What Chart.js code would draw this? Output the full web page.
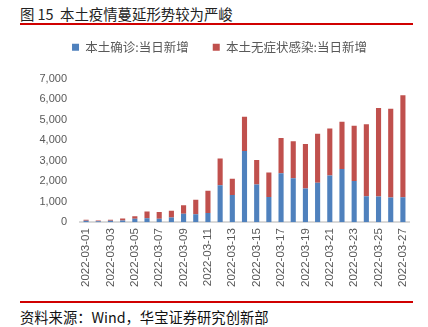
<!DOCTYPE html>
<html>
<head>
<meta charset="utf-8">
<script src="https://cdn.jsdelivr.net/npm/chart.js@4"></script>
<style>
  body { margin:0; width:428px; height:327px; background:#fff; position:relative; overflow:hidden; font-family:"Noto Sans CJK SC","Liberation Sans",sans-serif; }
  #title { position:absolute; left:20px; top:3px; font-size:14.4px; color:#222; white-space:nowrap; }
  .rule { position:absolute; left:20px; width:393px; height:2px; background:#d00000; }
  #wrap { position:absolute; left:30px; top:13px; width:398px; height:280px; }
  #source { position:absolute; left:20px; top:306px; font-size:14.3px; color:#111; white-space:nowrap; }
</style>
</head>
<body>
<div id="title">图 15&nbsp; 本土疫情蔓延形势较为严峻</div>
<div class="rule" style="top:23px"></div>
<div id="wrap"><canvas id="myChart"></canvas></div>
<div class="rule" style="top:301px"></div>
<div id="source">资料来源：Wind，华宝证券研究创新部</div>
<script>
'use strict';

var days = ['2022-03-01','2022-03-02','2022-03-03','2022-03-04','2022-03-05','2022-03-06','2022-03-07',
  '2022-03-08','2022-03-09','2022-03-10','2022-03-11','2022-03-12','2022-03-13','2022-03-14',
  '2022-03-15','2022-03-16','2022-03-17','2022-03-18','2022-03-19','2022-03-20','2022-03-21',
  '2022-03-22','2022-03-23','2022-03-24','2022-03-25','2022-03-26','2022-03-27'];

// 本土确诊:当日新增
var confirmed = [65, 50, 65, 80, 165, 195, 165, 230, 410, 390, 450, 1800, 1330, 3470,
  1830, 1230, 2380, 2140, 1640, 1915, 2270, 2595, 2010, 1265, 1250, 1200, 1210];
// 本土无症状感染:当日新增
var asymptomatic = [50, 30, 50, 100, 125, 325, 325, 325, 420, 700, 1075, 1297, 780, 1670,
  1200, 1185, 1720, 1800, 2170, 2395, 2300, 2300, 2690, 3500, 4310, 4330, 4980];

var yTicks = [0, 1000, 2000, 3000, 4000, 5000, 6000, 7000];

var tickGray = '#595959';
var ctx = document.getElementById('myChart').getContext('2d');

var legendGap = {
  id: 'legendGap',
  beforeInit: function(chart) {
    var origFit = chart.legend.fit;
    chart.legend.fit = function() {
      origFit.bind(chart.legend)();
      this.height += 15;
    };
  }
};

var myChart = new Chart(ctx, {
  type: 'bar',
  data: {
    labels: days,
    datasets: [{
      label: '本土确诊:当日新增',
      data: confirmed,
      backgroundColor: '#4f81bd',
      barPercentage: 0.42,
      categoryPercentage: 1
    }, {
      label: '本土无症状感染:当日新增',
      data: asymptomatic,
      backgroundColor: '#c0504d',
      barPercentage: 0.42,
      categoryPercentage: 1
    }]
  },
  options: {
    responsive: true,
    maintainAspectRatio: false,
    animation: false,
    layout: { padding: { top: 4, right: 19, left: 0, bottom: 0 } },
    plugins: {
      legend: {
        position: 'top',
        labels: {
          boxWidth: 7,
          boxHeight: 7,
          padding: 24,
          color: tickGray,
          font: { family: '"Noto Sans CJK SC", sans-serif', size: 12.5 }
        }
      },
      tooltip: { enabled: false }
    },
    scales: {
      x: {
        stacked: true,
        grid: { display: false, drawTicks: false },
        border: { display: true, color: '#d9d9d9', width: 2 },
        ticks: {
          autoSkip: false,
          maxRotation: 90,
          minRotation: 90,
          padding: 6,
          color: tickGray,
          font: { family: '"Liberation Sans", sans-serif', size: 11.5 },
          callback: function(v, i) { return i % 2 === 0 ? days[i] : ''; }
        }
      },
      y: {
        stacked: true,
        min: 0,
        max: 7000,
        afterBuildTicks: function(axis) {
          axis.ticks = yTicks.map(function(v) { return { value: v }; });
        },
        afterFit: function(axis) { axis.width = 50; },
        grid: { display: false, drawTicks: false },
        border: { display: false },
        ticks: {
          padding: 13,
          color: tickGray,
          font: { family: '"Liberation Sans", sans-serif', size: 11 },
          callback: function(v) { return v.toLocaleString('en-US'); }
        }
      }
    }
  },
  plugins: [legendGap]
});
</script>
</body>
</html>
